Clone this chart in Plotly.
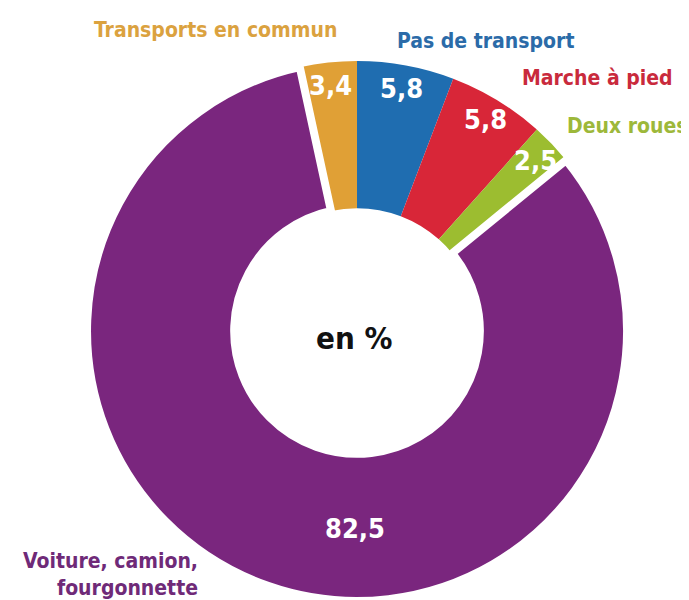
import math
import plotly.graph_objects as go

# répartition des modes de transport domicile-travail, en %
labels = ["Transports en commun", "Pas de transport", "Marche à pied",
          "Deux roues", "Voiture, camion, fourgonnette"]
values = [3.4, 5.8, 5.8, 2.5, 82.5]
value_text = ["3,4", "5,8", "5,8", "2,5", "82,5"]
colors = ["#E0A036", "#1F6DB0", "#D82638", "#9CBD30", "#7A267E"]
label_colors = ["#DBA23F", "#2B6BA8", "#C92A3C", "#9DB83A", "#6F2A78"]

FONT = "DejaVu Sans Condensed, Liberation Sans Narrow, Arial Narrow, sans-serif"
W, H = 689, 600

# pie geometry (paper fractions)
dom_x = [0.1147, 0.8984]
dom_y = [0.0117, 0.9117]

# the first slice (orange) starts left of 12 o'clock so that blue begins at the top
total = sum(values)
rot = -values[0] / total * 360

fig = go.Figure(go.Pie(
    labels=labels,
    values=values,
    sort=False,
    direction="clockwise",
    rotation=rot,
    hole=0.455,
    marker=dict(colors=colors,
                line=dict(color="white", width=[0, 0, 0, 0, 8])),
    textinfo="none",
    domain=dict(x=dom_x, y=dom_y),
    showlegend=False,
    hoverinfo="label+value",
))

# value labels, placed at each slice's mid angle
cx = (dom_x[0] + dom_x[1]) / 2 * W
cy = H - (dom_y[0] + dom_y[1]) / 2 * H
R = min((dom_x[1] - dom_x[0]) * W, (dom_y[1] - dom_y[0]) * H) / 2
start = rot
for i, v in enumerate(values):
    span = v / total * 360
    mid = start + span / 2
    start += span
    r = 0.915 * R
    if i == len(values) - 1:      # big slice: label sits at the bottom of the ring
        mid, r = 180.5, 0.73 * R
    a = math.radians(mid)
    px = cx + r * math.sin(a)
    py = cy - r * math.cos(a)
    fig.add_annotation(text=value_text[i], x=px / W, y=1 - py / H, xref="paper", yref="paper",
                       showarrow=False, xanchor="center", yanchor="middle",
                       font=dict(family=FONT, size=27, color="white", weight="bold"))

# category names around the ring
names = [
    (labels[0], 207, 22, "center", label_colors[0]),
    (labels[1], 478, 33, "center", label_colors[1]),
    (labels[2], 589, 70, "center", label_colors[2]),
    (labels[3], 682, 118, "right", label_colors[3]),
    ("Voiture, camion,<br>fourgonnette", 192, 566, "right", label_colors[4]),
]
for txt, x, y, anchor, col in names:
    fig.add_annotation(text=txt, x=x / W, y=1 - y / H, xref="paper", yref="paper",
                       xanchor=anchor, yanchor="middle", showarrow=False, align="right",
                       font=dict(family=FONT, size=21, color=col, weight="bold"))

fig.add_annotation(text="en %", x=346 / W, y=1 - 330 / H, xref="paper", yref="paper",
                   showarrow=False, font=dict(family=FONT, size=31, color="#111111", weight="bold"))

fig.update_layout(
    width=W, height=H,
    margin=dict(l=0, r=0, t=0, b=0),
    paper_bgcolor="white",
)

fig.write_html("out.html")
